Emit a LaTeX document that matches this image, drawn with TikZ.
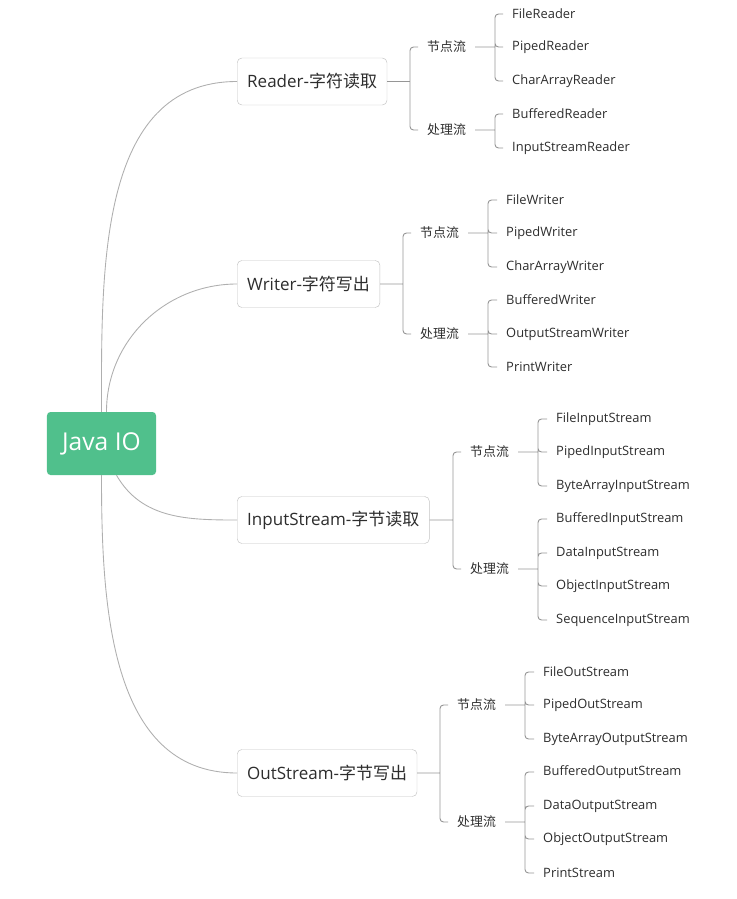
\documentclass[tikz,border=0pt]{standalone}
\usepackage{fontspec}
\setmainfont{Open Sans}
\newfontfamily\cjk{Noto Sans CJK SC}
\newcommand{\zh}[1]{{\cjk #1}}
\definecolor{rootgreen}{RGB}{80,192,140}
\definecolor{txtgray}{RGB}{45,45,45}
\definecolor{linegray}{RGB}{150,150,150}
\definecolor{curvegray}{RGB}{175,175,175}
\definecolor{boxgray}{RGB}{195,195,195}
\tikzset{
  root/.style={rounded corners=3pt, fill=rootgreen, text=white, font=\fontsize{21}{25}\selectfont, minimum width=3.27cm, minimum height=1.89cm, inner sep=0pt},
  branch/.style={draw=boxgray, rounded corners=4pt, fill=white, text=txtgray, font=\fontsize{14.5}{17}\selectfont, minimum height=1.41cm, inner xsep=0.3cm, anchor=west},
  kind/.style={text=txtgray, font=\fontsize{11}{13}\selectfont, inner xsep=0.27cm, anchor=west},
  leaf/.style={text=txtgray, font=\fontsize{11}{13}\selectfont, inner xsep=0.27cm, anchor=west},
  curve/.style={draw=curvegray, line width=0.75pt},
  tree/.style={draw=linegray, line width=0.8pt, rounded corners=3pt},
}
\begin{document}
\begin{tikzpicture}[x=0.03cm, y=-0.03cm]
  \useasboundingbox (0,0) rectangle (737,899);
  % Coordinates
  \coordinate (rd-b) at (410,81.5);
  \coordinate (rd-nb) at (495,47);
  \coordinate (rd-pb) at (495,130);
  \coordinate (wr-b) at (403,284);
  \coordinate (wr-nb) at (488,233);
  \coordinate (wr-pb) at (488,334);
  \coordinate (is-b) at (453,520);
  \coordinate (is-nb) at (538,452);
  \coordinate (is-pb) at (538,569);
  \coordinate (os-b) at (440,773);
  \coordinate (os-nb) at (525,705);
  \coordinate (os-pb) at (525,822);

  % Root and branches
  \node[root] (io) at (101.5,443.5) {Java IO};
  \node[branch] (rd) at (237,81.5) {Reader-\zh{字符读取}};
  \node[branch] (wr) at (237,284) {Writer-\zh{字符写出}};
  \node[branch] (is) at (237,520) {InputStream-\zh{字节读取}};
  \node[branch] (os) at (237,773) {OutStream-\zh{字节写出}};
  \draw[curve] (io.north) to[out=90,in=180] (rd.west);
  \draw[curve] ([xshift=0.15cm]io.north) to[out=90,in=180] (wr.west);
  \draw[curve] ([xshift=0.45cm]io.south) to[out=-60,in=180] (is.west);
  \draw[curve] (io.south) to[out=-90,in=180] (os.west);

  % Reader
  \node[kind] (rd-n) at (418,47) {\zh{节点流}};
  \node[kind] (rd-p) at (418,130) {\zh{处理流}};
  \node[leaf] (rd-n1) at (503,14) {FileReader};
  \node[leaf] (rd-n2) at (503,47) {PipedReader};
  \node[leaf] (rd-n3) at (503,81) {CharArrayReader};
  \node[leaf] (rd-p1) at (503,114) {BufferedReader};
  \node[leaf] (rd-p2) at (503,148) {InputStreamReader};
  \draw[tree] (rd.east) -- (rd-b) (rd-b) |- (rd-n.west) (rd-b) |- (rd-p.west);
  \draw[tree] (rd-n.east) -- (rd-nb) (rd-nb) |- (rd-n1.west) (rd-nb) |- (rd-n2.west) (rd-nb) |- (rd-n3.west);
  \draw[tree] (rd-p.east) -- (rd-pb) (rd-pb) |- (rd-p1.west) (rd-pb) |- (rd-p2.west);

  % Writer
  \node[kind] (wr-n) at (411,233) {\zh{节点流}};
  \node[kind] (wr-p) at (411,334) {\zh{处理流}};
  \node[leaf] (wr-n1) at (497,200) {FileWriter};
  \node[leaf] (wr-n2) at (497,233) {PipedWriter};
  \node[leaf] (wr-n3) at (497,267) {CharArrayWriter};
  \node[leaf] (wr-p1) at (497,300) {BufferedWriter};
  \node[leaf] (wr-p2) at (497,334) {OutputStreamWriter};
  \node[leaf] (wr-p3) at (497,367) {PrintWriter};
  \draw[tree] (wr.east) -- (wr-b) (wr-b) |- (wr-n.west) (wr-b) |- (wr-p.west);
  \draw[tree] (wr-n.east) -- (wr-nb) (wr-nb) |- (wr-n1.west) (wr-nb) |- (wr-n2.west) (wr-nb) |- (wr-n3.west);
  \draw[tree] (wr-p.east) -- (wr-pb) (wr-pb) |- (wr-p1.west) (wr-pb) |- (wr-p2.west) (wr-pb) |- (wr-p3.west);

  % InputStream
  \node[kind] (is-n) at (461,452) {\zh{节点流}};
  \node[kind] (is-p) at (461,569) {\zh{处理流}};
  \node[leaf] (is-n1) at (547,419) {FileInputStream};
  \node[leaf] (is-n2) at (547,452) {PipedInputStream};
  \node[leaf] (is-n3) at (547,486) {ByteArrayInputStream};
  \node[leaf] (is-p1) at (547,519) {BufferedInputStream};
  \node[leaf] (is-p2) at (547,553) {DataInputStream};
  \node[leaf] (is-p3) at (547,586) {ObjectInputStream};
  \node[leaf] (is-p4) at (547,620) {SequenceInputStream};
  \draw[tree] (is.east) -- (is-b) (is-b) |- (is-n.west) (is-b) |- (is-p.west);
  \draw[tree] (is-n.east) -- (is-nb) (is-nb) |- (is-n1.west) (is-nb) |- (is-n2.west) (is-nb) |- (is-n3.west);
  \draw[tree] (is-p.east) -- (is-pb) (is-pb) |- (is-p1.west) (is-pb) |- (is-p2.west) (is-pb) |- (is-p3.west) (is-pb) |- (is-p4.west);

  % OutStream
  \node[kind] (os-n) at (448,705) {\zh{节点流}};
  \node[kind] (os-p) at (448,822) {\zh{处理流}};
  \node[leaf] (os-n1) at (534,672) {FileOutStream};
  \node[leaf] (os-n2) at (534,705) {PipedOutStream};
  \node[leaf] (os-n3) at (534,739) {ByteArrayOutputStream};
  \node[leaf] (os-p1) at (534,772) {BufferedOutputStream};
  \node[leaf] (os-p2) at (534,806) {DataOutputStream};
  \node[leaf] (os-p3) at (534,839) {ObjectOutputStream};
  \node[leaf] (os-p4) at (534,873) {PrintStream};
  \draw[tree] (os.east) -- (os-b) (os-b) |- (os-n.west) (os-b) |- (os-p.west);
  \draw[tree] (os-n.east) -- (os-nb) (os-nb) |- (os-n1.west) (os-nb) |- (os-n2.west) (os-nb) |- (os-n3.west);
  \draw[tree] (os-p.east) -- (os-pb) (os-pb) |- (os-p1.west) (os-pb) |- (os-p2.west) (os-pb) |- (os-p3.west) (os-pb) |- (os-p4.west);
\end{tikzpicture}
\end{document}
